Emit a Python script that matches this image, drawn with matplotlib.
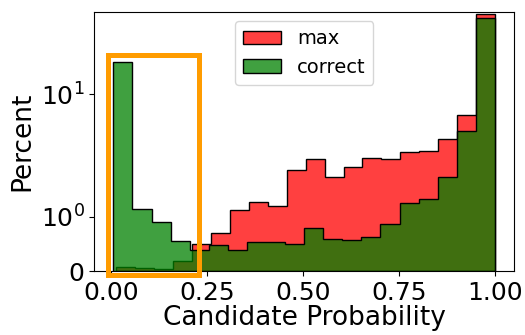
import numpy as np
import matplotlib
matplotlib.use("Agg")
import matplotlib.pyplot as plt
from matplotlib.patches import Rectangle

# Histogram bin ranges (20 equal bins each)
max_lo, max_hi = 0.014, 1.0
correct_lo, correct_hi = 0.006, 1.0
n_bins = 20

# Percent per bin
max_pct = [0.08, 0.06, 0.037, 0.184, 0.49, 0.694, 1.134, 1.326, 1.216, 2.42,
           2.96, 2.10, 2.56, 3.00, 2.96, 3.38, 3.44, 4.31, 6.78, 45.5]
correct_pct = [18.3, 1.156, 0.908, 0.555, 0.387, 0.479, 0.381, 0.528, 0.53, 0.503,
               0.786, 0.589, 0.565, 0.632, 0.86, 1.29, 1.395, 2.10, 5.01, 41.8]

labels = ["max", "correct"]
xlabel = "Candidate Probability"
ylabel = "Percent"

max_edges = np.linspace(max_lo, max_hi, n_bins + 1)
correct_edges = np.linspace(correct_lo, correct_hi, n_bins + 1)

fig = plt.figure(figsize=(5.25, 3.35), dpi=100)
ax = fig.add_axes([0.1796, 0.191, 0.7994, 0.774])

ax.hist(max_edges[:-1], bins=max_edges, weights=max_pct, histtype="stepfilled",
        facecolor=(1, 0, 0, 0.75), edgecolor="black", linewidth=1.0, label=labels[0])
ax.hist(correct_edges[:-1], bins=correct_edges, weights=correct_pct, histtype="stepfilled",
        facecolor=(0, 0.5, 0, 0.75), edgecolor="black", linewidth=1.0, label=labels[1])

ax.set_yscale("symlog", linthresh=1, linscale=0.4)
ax.set_ylim(0, 47.3)
ax.yaxis.set_minor_locator(matplotlib.ticker.NullLocator())
ax.set_xticks([0.0, 0.25, 0.5, 0.75, 1.0])

ax.tick_params(labelsize=18)
ax.set_xlabel(xlabel, fontsize=19, labelpad=0)
ax.set_ylabel(ylabel, fontsize=19)

ax.legend(loc="upper center", fontsize=14)

rect = Rectangle((0.0315, -0.0143), 0.2185, 0.849, transform=ax.transAxes,
                 fill=False, edgecolor="#ff9c00", linewidth=3.6, clip_on=False, zorder=5)
ax.add_patch(rect)

fig.savefig("out.png", dpi=100)
